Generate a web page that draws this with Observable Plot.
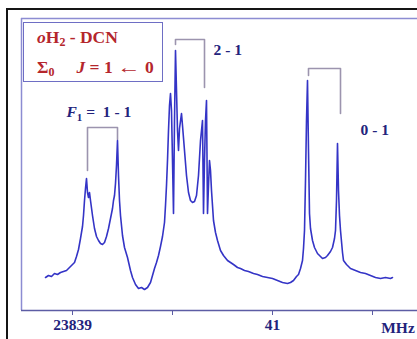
<!DOCTYPE html>
<html>
<head>
<meta charset="utf-8">
<script src="https://cdn.jsdelivr.net/npm/d3@7"></script>
<script src="https://cdn.jsdelivr.net/npm/@observablehq/plot@0.6"></script>
<style>
  html, body { margin: 0; padding: 0; background: #fff; }
  #wrap { position: relative; width: 417px; height: 339px; overflow: hidden; background: #fff; }
  #border { position: absolute; left: 6px; top: 8px; width: 430px; height: 350px; border-left: 2px solid #151515; border-top: 2px solid #151515; }
  #chart { position: absolute; left: 0; top: 0; }
  #legend { position: absolute; left: 23px; top: 22px; width: 138px; height: 58px; border: 1.6px solid #6e6ec4;
            font-family: "Liberation Serif", "Times New Roman", serif; font-weight: bold; font-size: 17.5px; color: #b5262c; }
  #legend .l1 { position: absolute; left: 13px; top: 4px; white-space: nowrap; }
  #legend .l2 { position: absolute; left: 13px; top: 34px; white-space: nowrap; }
  #legend sub { font-size: 12px; vertical-align: -3px; line-height: 0; }
</style>
</head>
<body>
<div id="wrap">
  <div id="border"></div>
  <div id="chart"></div>
  <div id="legend">
    <div class="l1"><i>o</i>H<sub>2</sub> - DCN</div>
    <div class="l2">Σ<sub>0</sub><span style="display:inline-block;width:22px"></span><i>J</i> = 1 <span style="display:inline-block;margin:0 3px;transform:scaleX(1.35)">←</span> 0</div>
  </div>
</div>
<script>
// Frequency offsets (MHz above 23800) and intensity (arb. units)
const freqOffset = [
  38.73,38.76,38.79,38.82,38.85,38.88,38.91,38.94,38.96,38.98,39.00,39.02,39.04,39.06,39.08,39.10,39.11,39.12,39.13,39.14,
  39.15,39.16,39.17,39.18,39.20,39.22,39.24,39.26,39.28,39.30,39.32,39.34,39.36,39.38,39.40,39.41,39.42,39.43,39.44,39.45,
  39.46,39.47,39.48,39.50,39.52,39.55,39.58,39.60,39.63,39.66,39.69,39.72,39.75,39.78,39.80,39.82,39.84,39.86,39.88,39.90,
  39.92,39.93,39.94,39.95,39.96,39.97,39.98,39.99,40.00,40.01,40.02,40.03,40.04,40.05,40.06,40.07,40.09,40.10,40.12,40.14,
  40.16,40.18,40.20,40.22,40.24,40.26,40.28,40.30,40.31,40.32,40.33,40.34,40.35,40.36,40.37,40.38,40.39,40.41,40.43,40.45,
  40.48,40.51,40.55,40.58,40.61,40.65,40.68,40.72,40.76,40.81,40.85,40.90,40.95,41.00,41.05,41.10,41.15,41.18,41.21,41.24,
  41.26,41.28,41.30,41.31,41.32,41.33,41.34,41.35,41.36,41.37,41.38,41.40,41.42,41.45,41.48,41.50,41.53,41.55,41.58,41.60,
  41.62,41.63,41.64,41.65,41.66,41.67,41.68,41.70,41.71,41.74,41.78,41.83,41.88,41.93,41.98,42.03,42.08,42.13,42.18,42.20
];
const intensity = [
  33,35,34,37,36,38,39,40,42,44,46,48,54,61,72,84,95,110,122,132,
  118,113,118,110,95,82,74,70,67,66,68,74,82,92,102,110,115,127,145,170,
  135,110,95,75,63,53,40,33,26,22,23,21,23,28,35,42,48,55,64,74,
  88,105,125,150,180,205,217,200,150,97,190,260,220,180,160,182,197,185,160,135,
  118,110,108,109,115,135,170,190,97,150,190,210,97,125,150,140,120,90,78,70,
  60,55,50,48,46,43,42,40,39,37,36,34,33,32,30,28,27,28,30,34,
  36,42,50,62,80,130,190,230,160,97,82,70,63,57,54,52,53,55,59,63,
  72,80,110,167,120,95,80,58,50,46,42,40,38,37,35,33,32,33,32,33
];

// Brackets marking the hyperfine groups (x offset MHz, intensity)
const bracketNames = ["F1", "21", "01"];
const bracketX = [[39.15,39.15,39.45,39.45],[40.03,40.03,40.32,40.32],[41.36,41.36,41.68,41.68]];
const bracketY = [[140,183,183,171],[266,271,271,223],[235,242,242,197]];

// Group labels
const labelText = ["F1 = 1 - 1", "2 - 1", "0 - 1"];
const labelX = [38.94, 40.41, 41.88];
const labelY = [198, 260, 180];

// Axis ticks
const tickValues = [23839, 23840, 23841, 23842];
const tickLabels = ["23839", "", "41", ""];
const unitLabel = "MHz";

const base = 23800;
const spectrum = freqOffset.map((f, i) => ({x: base + f, y: intensity[i]}));
const brackets = bracketNames.flatMap((n, j) => bracketX[j].map((x, k) => ({b: n, x: base + x, y: bracketY[j][k]})));
const labels = labelText.map((t, i) => ({t, x: base + labelX[i], y: labelY[i]}));

const xMin = 23838.49, xMax = 23842.45, yMin = 0, yMax = 292;
const font = "Liberation Serif, Times New Roman, serif";
const navy = "#23237c";

const svg = Plot.plot({
  width: 417,
  height: 339,
  marginLeft: 21,
  marginRight: 0,
  marginTop: 18,
  marginBottom: 29,
  x: {domain: [xMin, xMax], axis: null},
  y: {domain: [yMin, yMax], axis: null},
  style: {background: "transparent", color: navy, overflow: "visible"},
  marks: [
    Plot.ruleX([xMin], {y1: yMin, y2: yMax, stroke: "#8c8cd2", strokeWidth: 1.5}),
    Plot.ruleY([yMax], {stroke: "#8c8cd2", strokeWidth: 1.5}),
    Plot.ruleY([yMin], {stroke: "#5c5ca4", strokeWidth: 1.5}),
    Plot.axisX({
      ticks: tickValues,
      tickFormat: (d) => tickLabels[tickValues.indexOf(d)],
      tickSize: 5,
      tickPadding: 3,
      stroke: "#5c5ca4",
      fill: navy,
      fontSize: 15.5,
      fontWeight: "bold",
      fontFamily: font,
      label: null
    }),
    Plot.text([{t: unitLabel, x: 23842.255, y: -18}], {
      x: "x", y: "y", text: "t", fill: navy, fontSize: 15.5, fontWeight: "bold", fontFamily: font
    }),
    Plot.line(brackets, {x: "x", y: "y", z: "b", stroke: "#9c94ae", strokeWidth: 1.6}),
    Plot.line(spectrum, {x: "x", y: "y", stroke: "#3434c6", strokeWidth: 1.6, strokeLinejoin: "round"}),
    Plot.text(labels, {
      x: "x", y: "y", text: "t", textAnchor: "start", fill: navy,
      fontSize: 15.5, fontWeight: "bold", fontFamily: font
    })
  ]
});

// Italic F with subscript 1
svg.querySelectorAll("text").forEach((el) => {
  if (el.textContent === "F1 = 1 - 1") {
    el.textContent = "";
    const ns = "http://www.w3.org/2000/svg";
    const a = document.createElementNS(ns, "tspan"); a.setAttribute("font-style", "italic"); a.textContent = "F";
    const b = document.createElementNS(ns, "tspan"); b.setAttribute("font-size", "11"); b.setAttribute("dy", "4"); b.textContent = "1";
    const c = document.createElementNS(ns, "tspan"); c.setAttribute("dy", "-4"); c.textContent = "\u00a0=\u00a0\u00a01\u00a0-\u00a01";
    el.append(a, b, c);
  }
});

document.getElementById("chart").appendChild(svg);
</script>
</body>
</html>
